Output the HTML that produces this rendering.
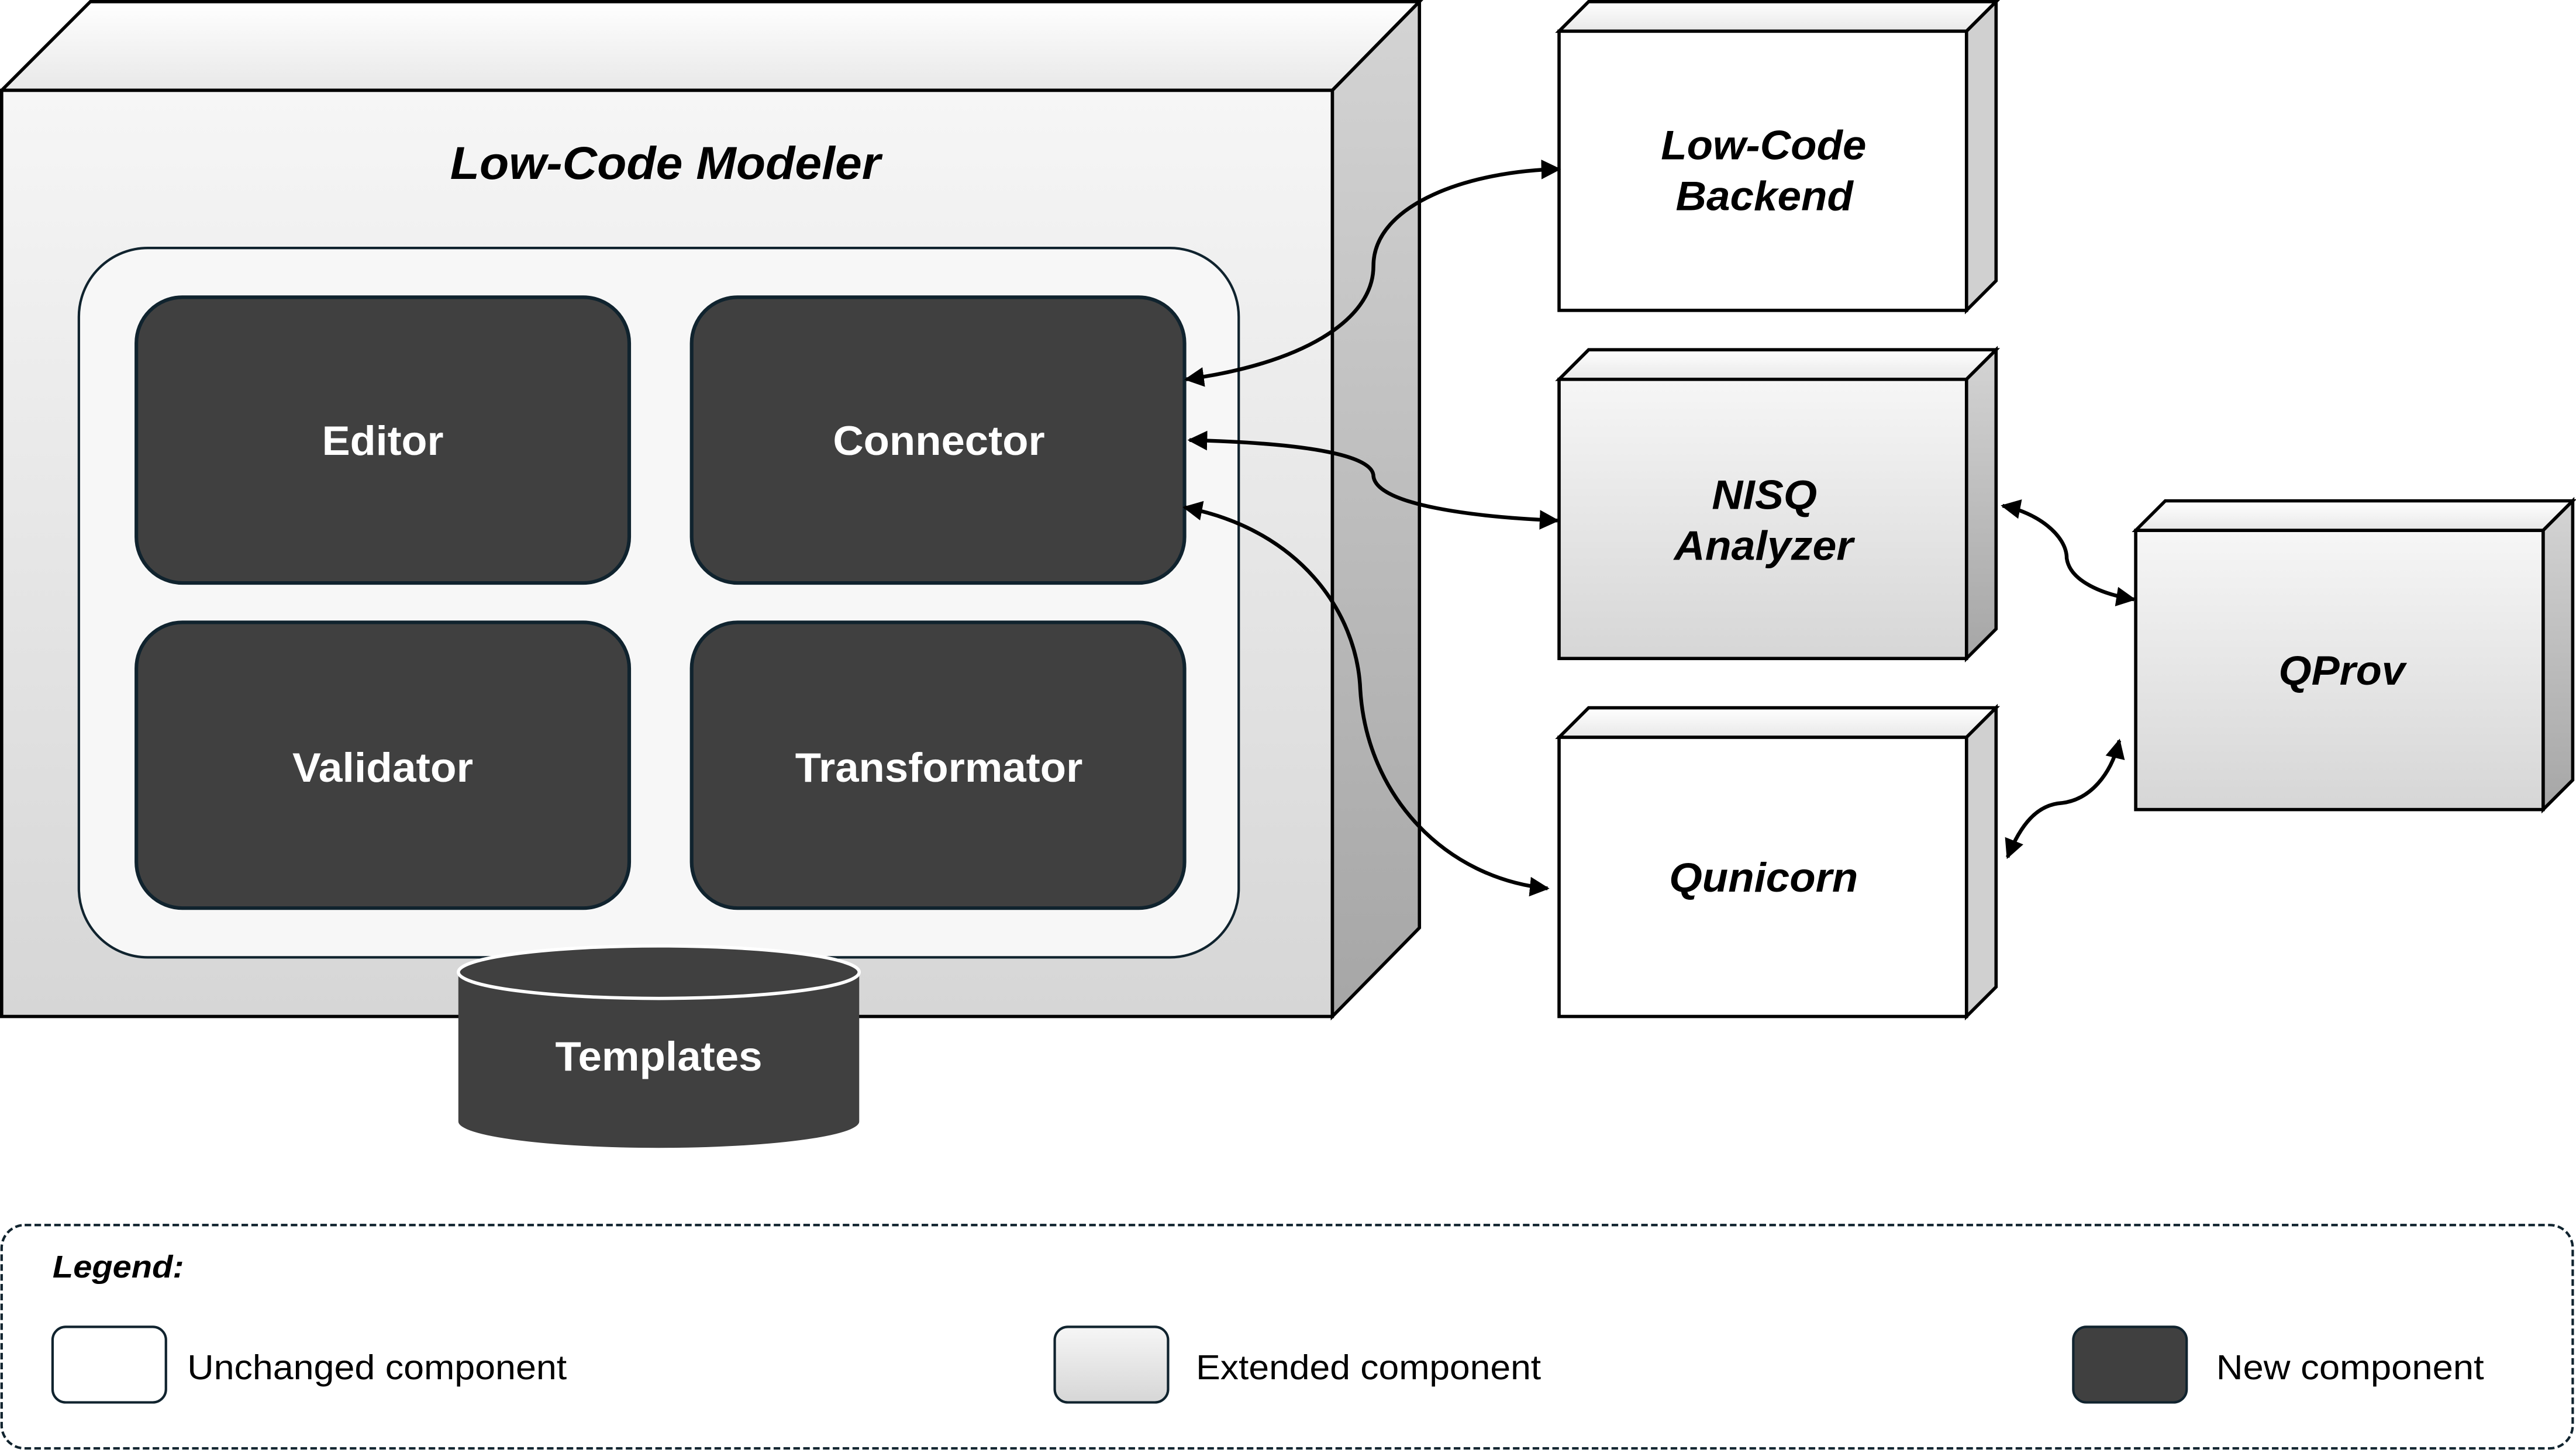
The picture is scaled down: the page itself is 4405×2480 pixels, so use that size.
<!DOCTYPE html>
<html><head><meta charset="utf-8"><style>
html,body{margin:0;padding:0;background:#fff;}
svg{display:block;}
text{font-family:"Liberation Sans",Arial,sans-serif;}
</style></head><body>
<svg width="4405" height="2480" viewBox="0 0 1568 883" preserveAspectRatio="none" xmlns="http://www.w3.org/2000/svg">
<defs>
<linearGradient id="gf" x1="0" y1="0" x2="0" y2="1"><stop offset="0" stop-color="#f6f6f6"/><stop offset="1" stop-color="#d6d6d6"/></linearGradient>
<linearGradient id="gs" x1="0" y1="0" x2="0" y2="1"><stop offset="0" stop-color="#d4d4d4"/><stop offset="1" stop-color="#a6a6a6"/></linearGradient>
<linearGradient id="gt" x1="0" y1="0" x2="0" y2="1"><stop offset="0" stop-color="#ffffff"/><stop offset="1" stop-color="#e8e8e8"/></linearGradient>
<marker id="ah" viewBox="0 0 10 10" refX="9" refY="5" markerWidth="12" markerHeight="12" markerUnits="userSpaceOnUse" orient="auto-start-reverse"><path d="M0,0 L10,5 L0,10 z" fill="#000"/></marker>
</defs>

<polygon points="1,55 55,1 864,1 811,55" fill="url(#gt)" stroke="#000" stroke-width="2"/>
<polygon points="811,55 864,1 864,565 811,619" fill="url(#gs)" stroke="#000" stroke-width="2"/>
<rect x="1" y="55" width="810" height="564" fill="url(#gf)" stroke="#000" stroke-width="2"/>
<text x="274" y="109" font-size="28" font-weight="bold" font-style="italic" textLength="262" lengthAdjust="spacingAndGlyphs">Low-Code Modeler</text>

<rect x="48" y="151" width="706" height="432" rx="42" fill="#f7f7f7" stroke="#10232e" stroke-width="1.5"/>
<g fill="#404040" stroke="#10232e" stroke-width="2.2">
<rect x="83" y="181" width="300" height="174" rx="28"/>
<rect x="421" y="181" width="300" height="174" rx="28"/>
<rect x="83" y="379" width="300" height="174" rx="28"/>
<rect x="421" y="379" width="300" height="174" rx="28"/>
</g>
<g fill="#fff" font-size="25" font-weight="bold" lengthAdjust="spacingAndGlyphs">
<text x="196" y="277" textLength="74" lengthAdjust="spacingAndGlyphs">Editor</text>
<text x="507" y="277" textLength="129" lengthAdjust="spacingAndGlyphs">Connector</text>
<text x="178" y="476" textLength="110" lengthAdjust="spacingAndGlyphs">Validator</text>
<text x="484" y="476" textLength="175" lengthAdjust="spacingAndGlyphs">Transformator</text>
</g>

<path d="M279,592 L279,683 A122,16 0 0 0 523,683 L523,592 Z" fill="#404040"/>
<ellipse cx="401" cy="592" rx="122" ry="16" fill="#404040" stroke="#fff" stroke-width="2"/>
<text x="338" y="652" fill="#fff" font-size="25" font-weight="bold" textLength="126" lengthAdjust="spacingAndGlyphs">Templates</text>

<g stroke="#000" stroke-width="2">
<polygon points="949,19 967,1 1215,1 1197,19" fill="url(#gt)"/>
<polygon points="1197,19 1215,1 1215,171 1197,189" fill="#d0d0d0"/>
<rect x="949" y="19" width="248" height="170" fill="#fff"/>
<polygon points="949,231 967,213 1215,213 1197,231" fill="url(#gt)"/>
<polygon points="1197,231 1215,213 1215,383 1197,401" fill="url(#gs)"/>
<rect x="949" y="231" width="248" height="170" fill="url(#gf)"/>
<polygon points="949,449 967,431 1215,431 1197,449" fill="url(#gt)"/>
<polygon points="1197,449 1215,431 1215,601 1197,619" fill="#d0d0d0"/>
<rect x="949" y="449" width="248" height="170" fill="#fff"/>
<polygon points="1300,323 1318,305 1566,305 1548,323" fill="url(#gt)"/>
<polygon points="1548,323 1566,305 1566,475 1548,493" fill="url(#gs)"/>
<rect x="1300" y="323" width="248" height="170" fill="url(#gf)"/>
</g>
<g font-size="25" font-weight="bold" font-style="italic">
<text x="1011" y="97" textLength="125" lengthAdjust="spacingAndGlyphs">Low-Code</text>
<text x="1020" y="128" textLength="108" lengthAdjust="spacingAndGlyphs">Backend</text>
<text x="1042" y="310" textLength="64" lengthAdjust="spacingAndGlyphs">NISQ</text>
<text x="1019" y="341" textLength="109" lengthAdjust="spacingAndGlyphs">Analyzer</text>
<text x="1016" y="543" textLength="115" lengthAdjust="spacingAndGlyphs">Qunicorn</text>
<text x="1387" y="417" textLength="77" lengthAdjust="spacingAndGlyphs">QProv</text>
</g>

<g fill="none" stroke="#000" stroke-width="2.3" marker-start="url(#ah)" marker-end="url(#ah)">
<path d="M722,231 C790,222 836,196 836,162 C836,124 895,104 949,103"/>
<path d="M724,268 C800,270 836,278 836,290 C838,308 900,315 948,317"/>
<path d="M721,309 C790,322 826,372 828,420 C832,485 880,535 942,541"/>
<path d="M1219,308 C1240,312 1258,326 1258,340 C1260,354 1280,362 1299,365"/>
<path d="M1222,522 C1230,502 1240,490 1255,489 C1272,487 1285,472 1290,451"/>
</g>

<rect x="1" y="746" width="1565" height="136" rx="14" fill="#fff" stroke="#10232e" stroke-width="1.5" stroke-dasharray="4,2"/>
<text x="32" y="778" font-size="19" font-weight="bold" font-style="italic" textLength="80" lengthAdjust="spacingAndGlyphs">Legend:</text>
<rect x="32" y="808" width="69" height="46" rx="8" fill="#fff" stroke="#10232e" stroke-width="1.5"/>
<rect x="642" y="808" width="69" height="46" rx="8" fill="url(#gf)" stroke="#10232e" stroke-width="1.5"/>
<rect x="1262" y="808" width="69" height="46" rx="8" fill="#404040" stroke="#10232e" stroke-width="1.5"/>
<g font-size="21">
<text x="114" y="840" textLength="231" lengthAdjust="spacingAndGlyphs">Unchanged component</text>
<text x="728" y="840" textLength="210" lengthAdjust="spacingAndGlyphs">Extended component</text>
<text x="1349" y="840" textLength="163" lengthAdjust="spacingAndGlyphs">New component</text>
</g>
</svg>
</body></html>
